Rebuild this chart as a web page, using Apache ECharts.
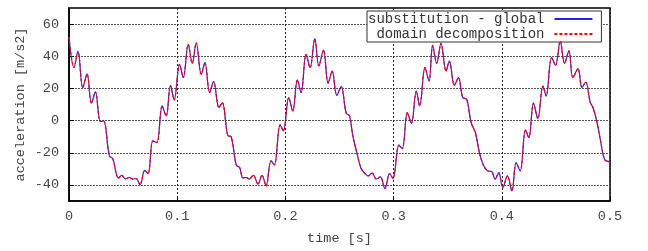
<!DOCTYPE html>
<html>
<head>
<meta charset="utf-8">
<script src="https://cdn.jsdelivr.net/npm/echarts@6/dist/echarts.min.js"></script>
<style>
  html, body { margin: 0; padding: 0; background: #fff; }
  #chart { width: 648px; height: 251px; }
</style>
</head>
<body>
<div id="chart"></div>
<script>
// time samples [s]
const timeData = [
  0.0, 0.0046, 0.0083, 0.0127, 0.0167, 0.0207, 0.0244, 0.029, 0.032, 0.0373,
  0.0404, 0.0457, 0.0488, 0.052, 0.0559, 0.059, 0.062, 0.0657, 0.070, 0.0731,
  0.0775, 0.0812, 0.0861, 0.0898, 0.0938, 0.0972, 0.1022, 0.1056, 0.1102, 0.1139,
  0.1176, 0.1222, 0.1256, 0.130, 0.1336, 0.1386, 0.1417, 0.1469, 0.1497, 0.1546,
  0.1577, 0.1608, 0.1639, 0.1667, 0.1704, 0.1747, 0.1784, 0.1821, 0.1867, 0.1898,
  0.1951, 0.1981, 0.2031, 0.2068, 0.2111, 0.2145, 0.2191, 0.2228, 0.2272, 0.2309,
  0.2352, 0.2395, 0.2432, 0.2475, 0.2515, 0.2562, 0.2593, 0.2623, 0.266, 0.270,
  0.2741, 0.2765, 0.2802, 0.284, 0.2877, 0.292, 0.2963, 0.2994, 0.3049, 0.308,
  0.3127, 0.3164, 0.321, 0.3241, 0.329, 0.3327, 0.3361, 0.3398, 0.3438, 0.3485,
  0.3515, 0.3562, 0.3599, 0.3639, 0.3676, 0.3716, 0.3756, 0.3793, 0.383, 0.387,
  0.3907, 0.3938, 0.3972, 0.4009, 0.4052, 0.4093, 0.4133, 0.417, 0.4219, 0.425,
  0.4293, 0.4333, 0.438, 0.441, 0.446, 0.4497, 0.454, 0.458, 0.462, 0.4657,
  0.4704, 0.4741, 0.4775, 0.4818, 0.4843, 0.488, 0.491, 0.4951, 0.499, 0.5
];

// acceleration [m/s2], substitution - global
const globalAcc = [
  52, 33, 43, 20.5, 29, 10.8, 17.8, -0.6, -0.2, -22,
  -23.6, -35.8, -34, -36.2, -35.4, -36.4, -36, -39.8, -31, -33,
  -12.6, -13.7, 9.1, 2.9, 21.9, 12.8, 35, 26.7, 47.4, 35.6,
  48.4, 28.8, 36, 17.4, 24.2, 8.1, 11.2, -9.5, -9.9, -27.7,
  -29.2, -35.6, -35.4, -36.4, -34, -39.5, -34, -40.6, -25, -27.5,
  -2.7, -6.4, 14.3, 6, 25.3, 17.4, 41.2, 32.9, 50.9, 34,
  43.9, 23.2, 30.8, 15.7, 21.1, 4.6, 2.9, -9.5, -19.9, -29.8,
  -33.3, -34.4, -32.7, -36.4, -35, -42.2, -32.9, -36, -15.3, -17.4,
  5, -1.7, 18.4, 9.1, 32.9, 24.6, 46.8, 35.6, 48, 30.8,
  37, 21.9, 26.7, 14.3, 13.3, -1.2, -7.5, -19.9, -27.7, -31.3,
  -31.7, -36.4, -32.3, -41.6, -34.4, -43.7, -26.1, -31.3, -5.8, -10.6,
  10.8, 1.2, 21.5, 15.3, 39.1, 34.4, 49.5, 35.6, 43.3, 26.7,
  32.3, 20.5, 24, 11.2, 8.1, -1.2, -11.6, -24.4, -25.5, -25.8
];

// domain decomposition: lies on top of the global curve in the picture
const domainAcc = globalAcc.slice();

const yTicks = [-40, -20, 0, 20, 40, 60];

const seriesNames = ["substitution - global", "domain decomposition"];

const font = "Liberation Mono";

const chart = echarts.init(document.getElementById("chart"));

chart.setOption({
  animation: false,
  backgroundColor: "#fff",
  textStyle: { fontFamily: font },
  grid: {
    left: 69,
    right: 38,
    top: 8,
    bottom: 50,
    show: true,
    borderColor: "#000",
    borderWidth: 1.5,
    backgroundColor: "transparent"
  },
  legend: {
    data: seriesNames,
    orient: "vertical",
    left: 367,
    top: 11,
    align: "right",
    itemWidth: 38,
    itemHeight: 10,
    itemGap: 1,
    padding: [1, 8, 1, 1],
    backgroundColor: "#fff",
    borderColor: "#333",
    borderWidth: 1,
    itemStyle: { opacity: 0 },
    formatter: (name) => (name === seriesNames[1] ? " " + name : name),
    textStyle: { fontFamily: font, fontSize: 14, color: "#333", padding: [0, 5, 0, 0] }
  },
  xAxis: {
    type: "value",
    min: 0,
    max: 0.5,
    interval: 0.1,
    name: "time [s]",
    nameLocation: "middle",
    nameGap: 30,
    nameMoveOverlap: false,
    nameTextStyle: { fontFamily: font, fontSize: 13.5, color: "#444" },
    axisLine: { show: true, onZero: false, lineStyle: { color: "#000", width: 1.5 } },
    axisTick: { show: true, inside: true, length: 5, lineStyle: { color: "#000" } },
    axisLabel: { margin: 8, fontFamily: font, fontSize: 13.5, color: "#444" },
    splitLine: { show: true, lineStyle: { color: "#222", width: 1, type: [2, 2] } }
  },
  yAxis: {
    type: "value",
    min: -50,
    max: 70,
    name: "acceleration [m/s2]",
    nameLocation: "middle",
    nameGap: 42,
    nameMoveOverlap: false,
    nameTextStyle: { fontFamily: font, fontSize: 13.5, color: "#444" },
    axisLine: { show: true, onZero: false, lineStyle: { color: "#000", width: 1.5 } },
    axisTick: { show: true, inside: true, length: 5, customValues: yTicks, lineStyle: { color: "#000" } },
    axisLabel: { margin: 10, customValues: yTicks, fontFamily: font, fontSize: 13.5, color: "#444" },
    splitLine: { show: true, lineStyle: { color: "#555", width: 1, type: [2, 1] } }
  },
  series: [
    {
      name: seriesNames[0],
      type: "line",
      data: timeData.map((t, i) => [t, globalAcc[i]]),
      showSymbol: false,
      symbol: "none",
      smooth: 0.35,
      lineStyle: { color: "#2020ff", width: 1.2 },
      itemStyle: { color: "#2020ff" },
      z: 3
    },
    {
      name: seriesNames[1],
      type: "line",
      data: timeData.map((t, i) => [t, domainAcc[i]]),
      showSymbol: false,
      symbol: "none",
      smooth: 0.35,
      lineStyle: { color: "#ff0000", width: 1.2, type: [3, 2] },
      itemStyle: { color: "#ff0000" },
      z: 4
    }
  ]
});
</script>
</body>
</html>
